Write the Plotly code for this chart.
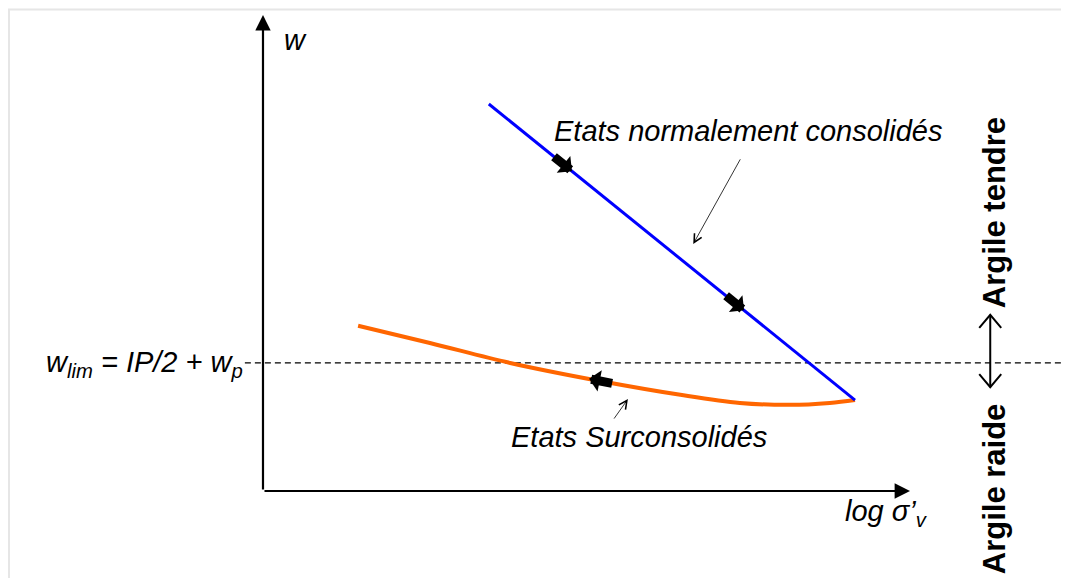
import numpy as np
import plotly.graph_objects as go

# schematic values: x = log sigma'v, y = water content w (arbitrary units)
nc_x = [3.49, 9.15]
nc_w = [8.13, 1.91]
oc_x = [1.47, 2.58, 3.82, 5.21, 6.45, 7.37, 8.15, 8.76, 9.15]
oc_w = [3.47, 3.11, 2.69, 2.31, 2.02, 1.85, 1.81, 1.85, 1.91]
w_lim = 2.69
axis_end_x = 10
axis_end_w = 10
nc_arrow_t = [0.227, 0.697]   # where the block arrows sit along the NC line
oc_arrow_x = 5.04
dbl_x = 11.24
dbl_w = [3.70, 2.18]          # ends of the tendre / raide double arrow

W, H = 1069, 578
xr = [-3.941, 12.581]
yr = [-1.996, 10.147]
sx = W / (xr[1] - xr[0])
sy = H / (yr[1] - yr[0])

FONT = "Arial, Liberation Sans, sans-serif"

fig = go.Figure()

fig.add_trace(go.Scatter(x=[-0.28, xr[1]], y=[w_lim, w_lim], mode="lines",
                         line=dict(color="black", width=1.2, dash="6px,4px"),
                         hoverinfo="skip"))
fig.add_trace(go.Scatter(x=oc_x, y=oc_w, mode="lines", line_shape="spline",
                         line=dict(color="#ff6600", width=4), hoverinfo="skip"))
fig.add_trace(go.Scatter(x=nc_x, y=nc_w, mode="lines",
                         line=dict(color="#0000ff", width=3), hoverinfo="skip"))

# double arrow: shaft + open V heads
hx = 11 / sx
hy = 13 / sy
vx = [dbl_x - hx, dbl_x, dbl_x + hx, None, dbl_x, dbl_x, None,
      dbl_x - hx, dbl_x, dbl_x + hx]
vy = [dbl_w[0] - hy, dbl_w[0], dbl_w[0] - hy, None, dbl_w[0], dbl_w[1], None,
      dbl_w[1] + hy, dbl_w[1], dbl_w[1] + hy]
fig.add_trace(go.Scatter(x=vx, y=vy, mode="lines",
                         line=dict(color="black", width=2), hoverinfo="skip"))

ann = []

# axes with arrow heads
for (x, y) in [(axis_end_x, 0), (0, axis_end_w)]:
    ann.append(dict(x=x, y=y, ax=0, ay=0, axref="x", ayref="y", xref="x", yref="y",
                    text="", showarrow=True, arrowhead=2, arrowwidth=2.2,
                    arrowsize=1.4, arrowcolor="black", standoff=0))


def block_arrow(x, y, dx, dy, length=25):
    # dx, dy: direction in screen pixels
    n = np.hypot(dx, dy)
    return dict(x=x, y=y, xref="x", yref="y", text="", showarrow=True,
                ax=-dx / n * length, ay=-dy / n * length,
                arrowhead=1, arrowwidth=9, arrowsize=0.4, arrowcolor="black")


ddx = (nc_x[1] - nc_x[0]) * sx
ddy = -(nc_w[1] - nc_w[0]) * sy
for t in nc_arrow_t:
    px = nc_x[0] + t * (nc_x[1] - nc_x[0])
    pw = nc_w[0] + t * (nc_w[1] - nc_w[0])
    ann.append(block_arrow(px, pw, ddx, ddy))

ow = float(np.interp(oc_arrow_x, oc_x, oc_w))
ann.append(block_arrow(oc_arrow_x, ow, -(5.21 - 3.82) * sx, -(2.69 - 2.31) * sy))

# pointers to the curves
ann.append(dict(x=6.65, y=5.19, ax=7.39, ay=7.00, axref="x", ayref="y",
                text="", showarrow=True, arrowhead=5, arrowwidth=0.8,
                arrowsize=2, arrowcolor="black"))
ann.append(dict(x=5.64, y=1.93, ax=5.41, ay=1.49, axref="x", ayref="y",
                text="", showarrow=True, arrowhead=5, arrowwidth=0.8,
                arrowsize=2, arrowcolor="black"))

it = dict(family=FONT, size=29, color="black")
texts = [
    ("<i>w</i>", 0.30, 9.47, "left"),
    ("<i>Etats normalement consolidés</i>", 7.50, 7.56, "center"),
    ("<i>Etats Surconsolidés</i>", 5.81, 1.13, "center"),
    ("<i>w<sub>lim</sub> = IP/2 + w<sub>p</sub></i>", -0.28, 2.67, "right"),
    ("<i>log σ’<sub>v</sub></i>", 8.96, -0.46, "left"),
]
for t, x, y, xa in texts:
    ann.append(dict(x=x, y=y, xref="x", yref="y", text=t, showarrow=False,
                    xanchor=xa, yanchor="middle", font=it))

bold = dict(family=FONT, size=31, color="black")
for t, y in [("<b>Argile tendre</b>", 5.84), ("<b>Argile raide</b>", 0.04)]:
    ann.append(dict(x=11.30, y=y, xref="x", yref="y", text=t, showarrow=False,
                    textangle=-90, xanchor="center", yanchor="middle", font=bold))

fig.update_layout(
    width=W, height=H,
    margin=dict(l=0, r=0, t=0, b=0),
    plot_bgcolor="white", paper_bgcolor="white",
    showlegend=False,
    xaxis=dict(range=xr, visible=False, fixedrange=True),
    yaxis=dict(range=yr, visible=False, fixedrange=True),
    annotations=ann,
    shapes=[dict(type="rect", xref="paper", yref="paper",
                 x0=1 / W, y0=-0.02, x1=1.02, y1=1 - 1.5 / H,
                 line=dict(color="#e6e6e6", width=2))],
)

fig.write_html("out.html")
